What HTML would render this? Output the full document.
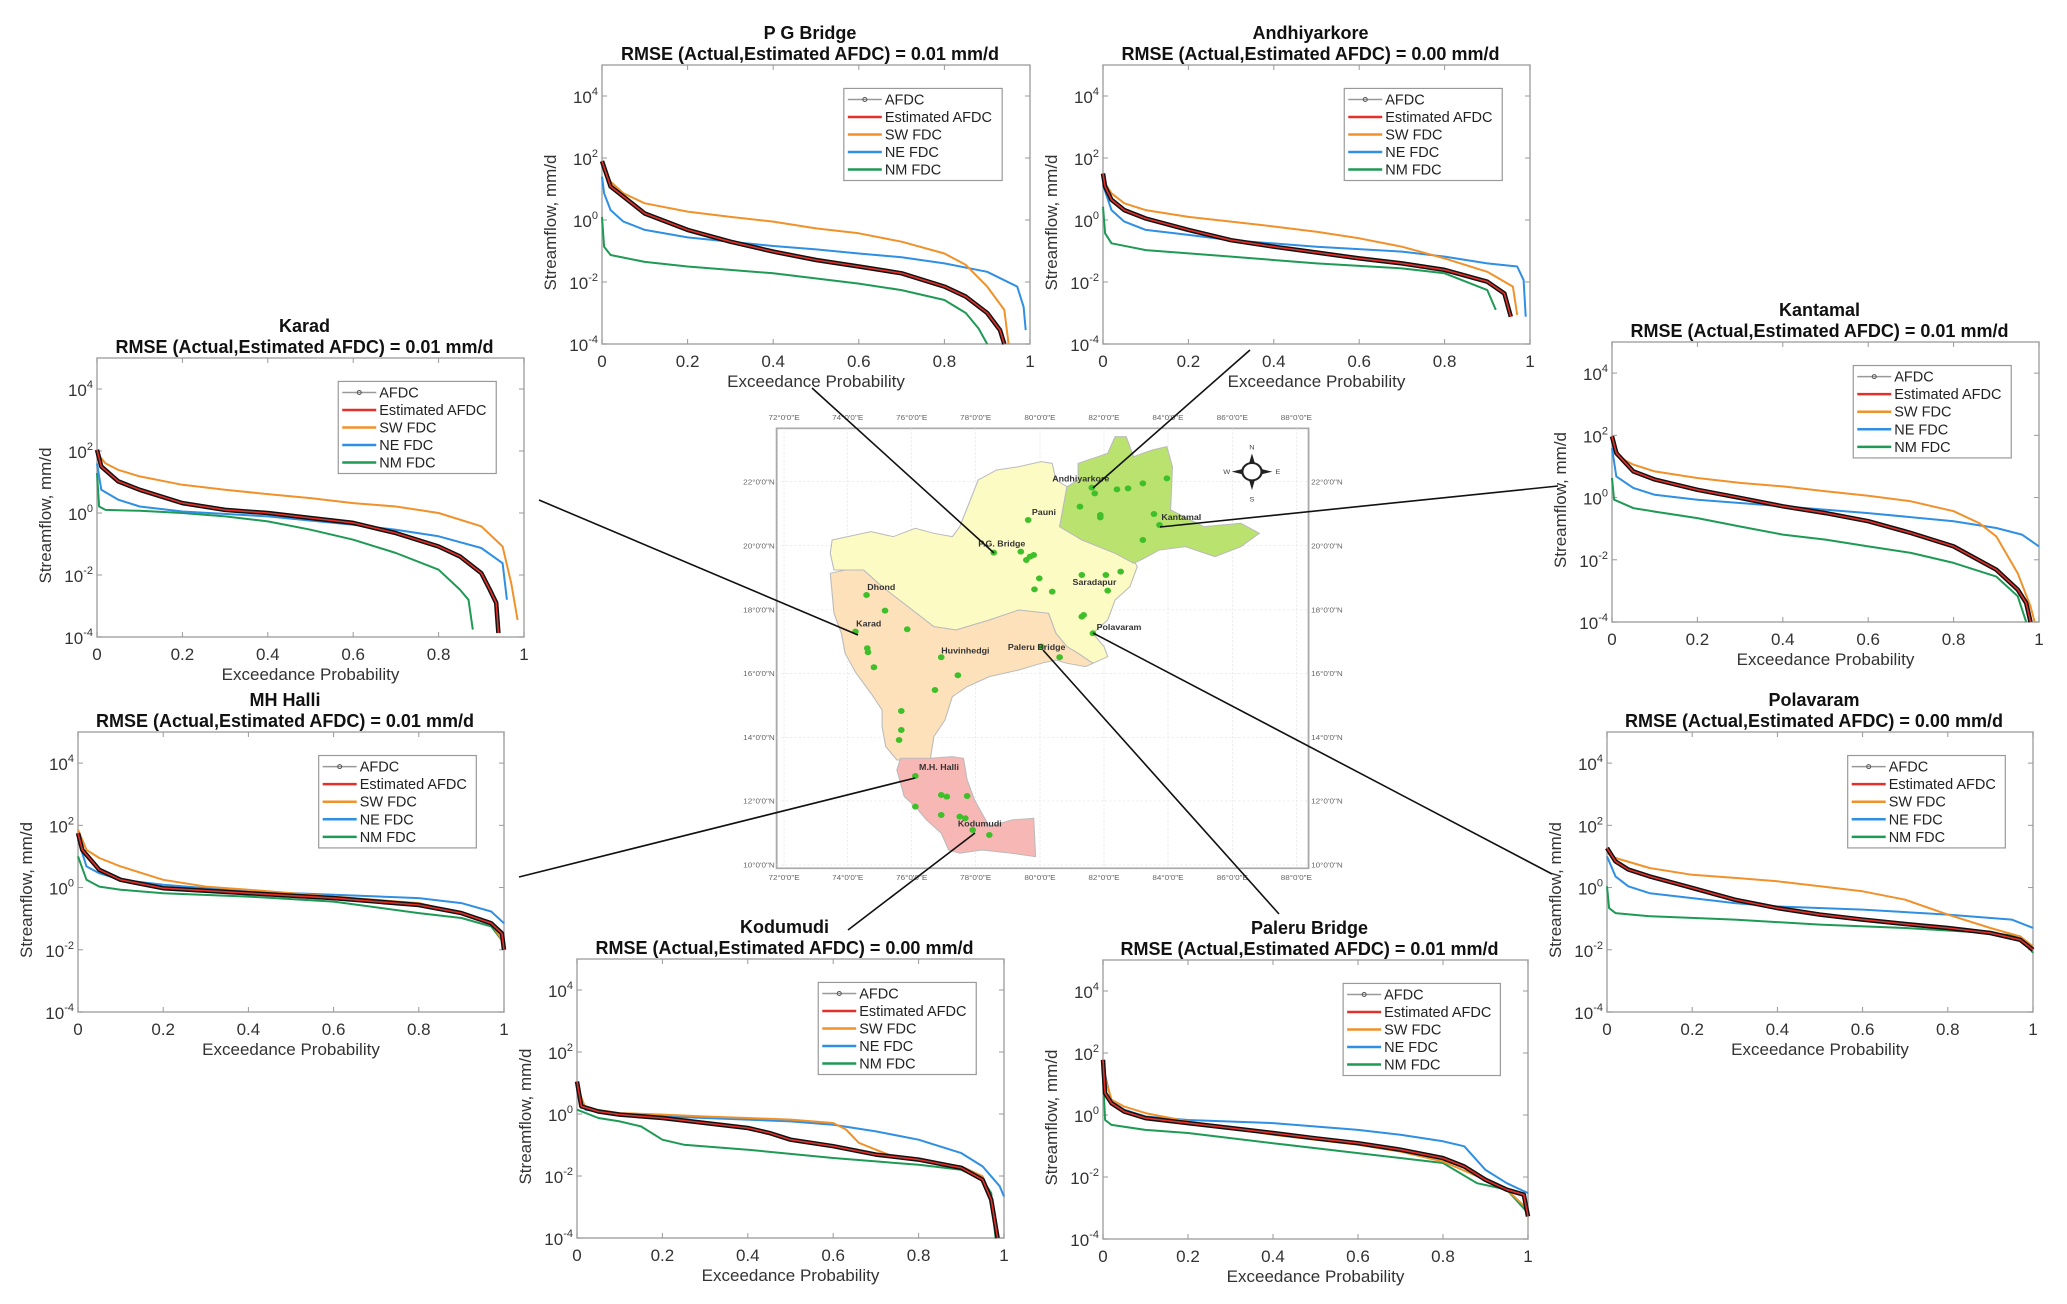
<!DOCTYPE html>
<html><head><meta charset="utf-8"><title>FDC panels</title>
<style>
html,body{margin:0;padding:0;background:#fff;}
svg{display:block;font-family:"Liberation Sans",Arial,sans-serif;}
</style></head>
<body>
<svg id="fig" width="2067" height="1304" viewBox="0 0 2067 1304" xmlns="http://www.w3.org/2000/svg">
<rect x="0" y="0" width="2067" height="1304" fill="#fff"/>
<g id="map" transform="translate(760,400) scale(0.3699,0.3333)"></g>
<g id="connectors" stroke="#111" stroke-width="1.6">
  <line x1="812" y1="388" x2="994" y2="553"/>
  <line x1="1250" y1="350" x2="1093" y2="488"/>
  <line x1="1558" y1="486" x2="1160" y2="527"/>
  <line x1="539" y1="500" x2="858" y2="635"/>
  <line x1="519" y1="877" x2="915" y2="778"/>
  <line x1="848" y1="930" x2="975" y2="833"/>
  <line x1="1279" y1="914" x2="1043" y2="650"/>
  <line x1="1552" y1="874" x2="1093" y2="633"/>
</g>
<g id="panels"></g>
</svg>
<script>
// ---- Data: [exceedance probability, log10(streamflow mm/d)] ----
const PG_AFDC=[[0,1.9],[0.02,1.08],[0.1,0.21],[0.2,-0.32],[0.3,-0.7],[0.4,-1.02],[0.5,-1.29],[0.6,-1.5],[0.7,-1.72],[0.8,-2.15],[0.85,-2.47],[0.9,-3.0],[0.93,-3.55],[0.94,-4]];
const PG_SW=[[0,1.72],[0.02,1.24],[0.05,0.86],[0.1,0.54],[0.2,0.27],[0.3,0.1],[0.4,-0.05],[0.5,-0.27],[0.6,-0.43],[0.7,-0.7],[0.8,-1.08],[0.85,-1.45],[0.9,-2.15],[0.94,-2.9],[0.95,-4]];
const PG_NE=[[0,1.4],[0.005,0.86],[0.02,0.32],[0.05,-0.05],[0.1,-0.32],[0.2,-0.56],[0.3,-0.7],[0.4,-0.84],[0.5,-0.95],[0.6,-1.08],[0.7,-1.2],[0.8,-1.4],[0.9,-1.67],[0.97,-2.15],[0.985,-2.8],[0.99,-3.55]];
const PG_NM=[[0,0.1],[0.005,-0.86],[0.02,-1.13],[0.1,-1.35],[0.2,-1.5],[0.4,-1.72],[0.6,-2.05],[0.7,-2.26],[0.8,-2.58],[0.85,-3.0],[0.88,-3.5],[0.9,-4]];

const AN_AFDC=[[0,1.5],[0.005,1.08],[0.02,0.65],[0.05,0.32],[0.1,0.05],[0.2,-0.32],[0.3,-0.65],[0.4,-0.86],[0.5,-1.05],[0.6,-1.24],[0.7,-1.4],[0.8,-1.61],[0.9,-1.99],[0.94,-2.37],[0.955,-3.12]];
const AN_SW=[[0,1.29],[0.02,0.86],[0.05,0.54],[0.1,0.32],[0.2,0.1],[0.3,-0.05],[0.4,-0.21],[0.5,-0.38],[0.6,-0.59],[0.7,-0.86],[0.8,-1.24],[0.9,-1.67],[0.96,-2.15],[0.97,-3.06]];
const AN_NE=[[0,1.13],[0.02,0.32],[0.05,-0.05],[0.1,-0.32],[0.2,-0.48],[0.3,-0.65],[0.5,-0.86],[0.7,-1.02],[0.8,-1.18],[0.9,-1.4],[0.97,-1.5],[0.985,-1.94],[0.99,-3.12]];
const AN_NM=[[0,0.43],[0.005,-0.43],[0.02,-0.75],[0.1,-0.97],[0.3,-1.18],[0.5,-1.4],[0.7,-1.56],[0.8,-1.72],[0.9,-2.26],[0.92,-2.9]];

const KA_AFDC=[[0,2.04],[0.01,1.5],[0.05,1.02],[0.1,0.75],[0.2,0.32],[0.3,0.1],[0.4,0],[0.5,-0.16],[0.6,-0.32],[0.7,-0.65],[0.8,-1.08],[0.85,-1.4],[0.9,-1.94],[0.92,-2.47],[0.935,-2.9],[0.94,-3.87]];
const KA_SW=[[0,1.93],[0.02,1.6],[0.05,1.39],[0.1,1.18],[0.2,0.91],[0.3,0.75],[0.4,0.61],[0.5,0.48],[0.6,0.32],[0.7,0.21],[0.8,0],[0.9,-0.43],[0.95,-1.08],[0.97,-2.26],[0.985,-3.45]];
const KA_NE=[[0,1.6],[0.01,0.75],[0.05,0.43],[0.1,0.21],[0.2,0.05],[0.4,-0.11],[0.6,-0.38],[0.7,-0.54],[0.8,-0.75],[0.9,-1.13],[0.95,-1.62],[0.96,-2.8]];
const KA_NM=[[0,1.29],[0.005,0.21],[0.02,0.1],[0.1,0.07],[0.2,0],[0.3,-0.11],[0.4,-0.27],[0.5,-0.54],[0.6,-0.86],[0.7,-1.29],[0.8,-1.83],[0.85,-2.47],[0.87,-2.8],[0.88,-3.76]];

const KT_AFDC=[[0,1.97],[0.01,1.43],[0.05,0.84],[0.1,0.58],[0.2,0.25],[0.3,-0.01],[0.4,-0.28],[0.5,-0.5],[0.6,-0.76],[0.7,-1.14],[0.8,-1.57],[0.9,-2.32],[0.95,-2.96],[0.97,-3.39],[0.98,-4]];
const KT_SW=[[0,1.86],[0.02,1.27],[0.05,1.06],[0.1,0.84],[0.2,0.63],[0.3,0.47],[0.4,0.36],[0.5,0.2],[0.6,0.06],[0.7,-0.12],[0.8,-0.44],[0.86,-0.82],[0.9,-1.25],[0.95,-2.43],[0.98,-3.5],[0.99,-4]];
const KT_NE=[[0,1.59],[0.01,0.68],[0.05,0.31],[0.1,0.09],[0.2,-0.07],[0.4,-0.28],[0.6,-0.5],[0.8,-0.76],[0.9,-0.98],[0.96,-1.19],[1,-1.57]];
const KT_NM=[[0,0.63],[0.005,-0.07],[0.05,-0.34],[0.1,-0.45],[0.2,-0.66],[0.3,-0.93],[0.4,-1.19],[0.5,-1.35],[0.6,-1.57],[0.7,-1.78],[0.8,-2.1],[0.9,-2.54],[0.95,-3.17],[0.97,-4]];

const MH_AFDC=[[0,1.75],[0.01,1.21],[0.05,0.57],[0.1,0.25],[0.2,-0.02],[0.4,-0.18],[0.6,-0.34],[0.8,-0.56],[0.9,-0.82],[0.97,-1.15],[0.995,-1.47],[1,-2.0]];
const MH_SW=[[0,1.86],[0.02,1.21],[0.05,0.95],[0.1,0.68],[0.2,0.25],[0.3,0.03],[0.4,-0.07],[0.6,-0.29],[0.8,-0.5],[0.9,-0.82],[0.97,-1.15],[1,-1.79]];
const MH_NE=[[0,1.54],[0.02,0.68],[0.05,0.46],[0.1,0.25],[0.2,0.09],[0.4,-0.13],[0.6,-0.23],[0.8,-0.34],[0.9,-0.5],[0.97,-0.77],[1,-1.15]];
const MH_NM=[[0,1.0],[0.02,0.25],[0.05,0.03],[0.1,-0.07],[0.2,-0.18],[0.4,-0.29],[0.6,-0.45],[0.8,-0.82],[0.9,-0.98],[0.97,-1.25],[1,-1.79]];

const PO_AFDC=[[0,1.27],[0.02,0.84],[0.05,0.58],[0.1,0.36],[0.2,-0.01],[0.3,-0.39],[0.4,-0.66],[0.5,-0.87],[0.6,-1.03],[0.7,-1.17],[0.8,-1.3],[0.9,-1.46],[0.97,-1.68],[1,-2.0]];
const PO_SW=[[0,1.11],[0.02,0.95],[0.1,0.63],[0.2,0.41],[0.3,0.31],[0.4,0.2],[0.5,0.04],[0.6,-0.12],[0.7,-0.39],[0.8,-0.87],[0.9,-1.3],[0.97,-1.57],[1,-1.89]];
const PO_NE=[[0,1.0],[0.02,0.36],[0.05,0.04],[0.1,-0.18],[0.2,-0.34],[0.3,-0.5],[0.4,-0.61],[0.6,-0.71],[0.8,-0.87],[0.95,-1.03],[1,-1.3]];
const PO_NM=[[0,0.04],[0.005,-0.66],[0.02,-0.82],[0.1,-0.92],[0.3,-1.03],[0.5,-1.19],[0.7,-1.3],[0.9,-1.46],[0.97,-1.57],[1,-2.1]];

const KO_AFDC=[[0,1.05],[0.01,0.25],[0.05,0.08],[0.1,-0.02],[0.2,-0.13],[0.3,-0.29],[0.4,-0.45],[0.45,-0.61],[0.5,-0.83],[0.6,-1.04],[0.7,-1.31],[0.8,-1.47],[0.9,-1.74],[0.95,-2.12],[0.97,-2.76],[0.985,-4]];
const KO_SW=[[0,0.89],[0.02,0.19],[0.1,0.03],[0.2,-0.02],[0.3,-0.08],[0.4,-0.13],[0.5,-0.18],[0.6,-0.29],[0.63,-0.5],[0.66,-0.93],[0.7,-1.15],[0.75,-1.42],[0.8,-1.47],[0.9,-1.69],[0.95,-2.01],[0.97,-2.76],[0.985,-4]];
const KO_NE=[[0,0.78],[0.02,0.14],[0.1,-0.02],[0.3,-0.13],[0.5,-0.24],[0.6,-0.35],[0.7,-0.56],[0.8,-0.83],[0.9,-1.26],[0.95,-1.69],[0.99,-2.33],[1,-2.66]];
const KO_NM=[[0,0.14],[0.05,-0.13],[0.1,-0.24],[0.15,-0.4],[0.2,-0.83],[0.25,-0.99],[0.4,-1.15],[0.6,-1.42],[0.8,-1.64],[0.9,-1.8],[0.95,-2.12],[0.97,-2.55],[0.98,-4]];

const PA_AFDC=[[0,1.78],[0.005,0.7],[0.02,0.38],[0.05,0.11],[0.1,-0.1],[0.2,-0.26],[0.3,-0.42],[0.4,-0.58],[0.5,-0.75],[0.6,-0.91],[0.7,-1.12],[0.8,-1.39],[0.85,-1.66],[0.9,-2.09],[0.95,-2.41],[0.99,-2.57],[1,-3.27]];
const PA_SW=[[0,1.46],[0.02,0.49],[0.05,0.27],[0.1,0.06],[0.2,-0.21],[0.3,-0.42],[0.4,-0.64],[0.5,-0.8],[0.6,-0.96],[0.7,-1.18],[0.8,-1.5],[0.9,-2.09],[0.95,-2.41],[1,-3.05]];
const PA_NE=[[0,1.57],[0.02,0.44],[0.05,0.17],[0.1,-0.05],[0.2,-0.16],[0.4,-0.26],[0.6,-0.48],[0.7,-0.64],[0.8,-0.85],[0.85,-1.01],[0.9,-1.77],[0.95,-2.2],[1,-2.52]];
const PA_NM=[[0,1.24],[0.005,-0.16],[0.02,-0.32],[0.1,-0.48],[0.2,-0.58],[0.4,-0.91],[0.6,-1.23],[0.8,-1.55],[0.88,-2.2],[0.95,-2.41],[1,-3.16]];

const xTickLabels=["0","0.2","0.4","0.6","0.8","1"];
const xTickValues=[0,0.2,0.4,0.6,0.8,1];
const yTickExps=[-4,-2,0,2,4];
const legendLabels=["AFDC","Estimated AFDC","SW FDC","NE FDC","NM FDC"];

const COL={sw:"#f0912a",ne:"#2e8fe3",nm:"#1e9a55",red:"#e2302a",blk:"#111"};
const NS="http://www.w3.org/2000/svg";
function mk(tag,attrs,parent){const e=document.createElementNS(NS,tag);for(const k in attrs)e.setAttribute(k,attrs[k]);if(parent)parent.appendChild(e);return e;}

const panels=[
 {id:"pg-bridge",name:"P G Bridge",rmse:"0.01",L:602,T:65,W:428,H:279,d:[PG_AFDC,PG_SW,PG_NE,PG_NM]},
 {id:"andhiyarkore",name:"Andhiyarkore",rmse:"0.00",L:1103,T:65,W:427,H:279,d:[AN_AFDC,AN_SW,AN_NE,AN_NM]},
 {id:"karad",name:"Karad",rmse:"0.01",L:97,T:358,W:427,H:279,d:[KA_AFDC,KA_SW,KA_NE,KA_NM]},
 {id:"kantamal",name:"Kantamal",rmse:"0.01",L:1612,T:342,W:427,H:280,d:[KT_AFDC,KT_SW,KT_NE,KT_NM]},
 {id:"mh-halli",name:"MH Halli",rmse:"0.01",L:78,T:732,W:426,H:280,d:[MH_AFDC,MH_SW,MH_NE,MH_NM]},
 {id:"polavaram",name:"Polavaram",rmse:"0.00",L:1607,T:732,W:426,H:280,d:[PO_AFDC,PO_SW,PO_NE,PO_NM]},
 {id:"kodumudi",name:"Kodumudi",rmse:"0.00",L:577,T:959,W:427,H:279,d:[KO_AFDC,KO_SW,KO_NE,KO_NM]},
 {id:"paleru-bridge",name:"Paleru Bridge",rmse:"0.01",L:1103,T:960,W:425,H:279,d:[PA_AFDC,PA_SW,PA_NE,PA_NM]}
];

const root=document.getElementById("panels");
panels.forEach(p=>{
  const g=mk("g",{},root);
  
  
  const sx=x=>p.L+x*p.W;
  const sy=lq=>p.T+(5-lq)/9*p.H;
  const cx=p.L+p.W/2-6;
  const t1=mk("text",{x:cx,y:p.T-26,"text-anchor":"middle","font-size":"18","font-weight":"bold",fill:"#111"},g);
  t1.textContent=p.name;
  
  
  const t2=mk("text",{x:cx,y:p.T-5,"text-anchor":"middle","font-size":"18","font-weight":"bold",fill:"#111"},g);
  t2.textContent="RMSE (Actual,Estimated AFDC) = "+p.rmse+" mm/d";
  
  
  const box=mk("rect",{x:p.L,y:p.T,width:p.W,height:p.H,fill:"#fff",stroke:"#a8a8a8","stroke-width":"1.5"},g);
  
  
  xTickValues.forEach((v,i)=>{
    mk("line",{x1:sx(v),x2:sx(v),y1:p.T+p.H,y2:p.T+p.H-5,stroke:"#999"},g);
    mk("line",{x1:sx(v),x2:sx(v),y1:p.T,y2:p.T+5,stroke:"#999"},g);
    const tl=mk("text",{x:sx(v),y:p.T+p.H+23,"text-anchor":"middle","font-size":"17",fill:"#333"},g);
    tl.textContent=xTickLabels[i];
    
    
  });
  yTickExps.forEach(e=>{
    mk("line",{x1:p.L,x2:p.L+5,y1:sy(e),y2:sy(e),stroke:"#999"},g);
    mk("line",{x1:p.L+p.W,x2:p.L+p.W-5,y1:sy(e),y2:sy(e),stroke:"#999"},g);
    const tl=mk("text",{x:p.L-4,y:sy(e)+7,"text-anchor":"end","font-size":"17",fill:"#333"},g);
    
    
    const b=mk("tspan",{},tl);b.textContent="10";
    const s=mk("tspan",{dy:"-8","font-size":"11"},tl);s.textContent=String(e);
  });
  const xl=mk("text",{x:p.L+p.W/2,y:p.T+p.H+43,"text-anchor":"middle","font-size":"17",fill:"#333"},g);
  xl.textContent="Exceedance Probability";
  
  
  const yx=p.L-46, yy=p.T+p.H/2+18;
  const yl=mk("text",{x:yx,y:yy,"text-anchor":"middle","font-size":"17",fill:"#333",transform:"rotate(-90 "+yx+" "+yy+")"},g);
  yl.textContent="Streamflow, mm/d";
  
  
  const path=arr=>arr.map((q,i)=>(i?"L":"M")+sx(q[0]).toFixed(1)+","+sy(q[1]).toFixed(1)).join(" ");
  const order=[[p.d[3],COL.nm,2,"nm-fdc-line"],[p.d[2],COL.ne,2,"ne-fdc-line"],[p.d[1],COL.sw,2,"sw-fdc-line"],[p.d[0],COL.blk,4.5,"afdc-line"],[p.d[0],COL.red,1.6,"estimated-afdc-line"]];
  order.forEach(o=>{
    const pl=mk("path",{d:path(o[0]),fill:"none",stroke:o[1],"stroke-width":o[2],"stroke-linejoin":"round"},g);
    
    
  });
  const lx=p.L+0.565*p.W, ly=p.T+0.084*p.H, lw=0.37*p.W, lh=0.33*p.H;
  const lg=mk("g",{},g);
  
  
  mk("rect",{x:lx,y:ly,width:lw,height:lh,fill:"#fff",stroke:"#999","stroke-width":"1.2"},lg);
  const lcols=["#999",COL.red,COL.sw,COL.ne,COL.nm];
  legendLabels.forEach((lab,i)=>{
    const ry=ly+lh*(0.12+i*0.19);
    const en=mk("g",{},lg);
    
    
    mk("line",{x1:lx+4,x2:lx+38,y1:ry,y2:ry,stroke:lcols[i],"stroke-width":i===0?1.5:2.5},en);
    if(i===0)mk("circle",{cx:lx+21,cy:ry,r:2,fill:"none",stroke:"#555"},en);
    const tt=mk("text",{x:lx+41,y:ry+5,"font-size":"14.5",fill:"#222"},en);
    tt.textContent=lab;
  });
});

// ---- Map ----
const mapG=document.getElementById("map");
mk("rect",{x:45,y:85,width:1438,height:1320,fill:"#fff",stroke:"#aaa","stroke-width":"5"},mapG);
const lonX=[65,237,410,583,757,930,1103,1277,1450], lonL=["72°0'0\"E","74°0'0\"E","76°0'0\"E","78°0'0\"E","80°0'0\"E","82°0'0\"E","84°0'0\"E","86°0'0\"E","88°0'0\"E"];
const latY=[245,437,630,820,1012,1203,1395], latL=["22°0'0\"N","20°0'0\"N","18°0'0\"N","16°0'0\"N","14°0'0\"N","12°0'0\"N","10°0'0\"N"];
lonX.forEach((x,i)=>{mk("line",{x1:x,x2:x,y1:85,y2:1405,stroke:"#e2e2e2","stroke-width":"2","stroke-dasharray":"6 6"},mapG);
  [60,1440].forEach(y=>{const t=mk("text",{x:x,y:y,"text-anchor":"middle","font-size":"22",fill:"#666"},mapG);t.textContent=lonL[i];});});
latY.forEach((y,i)=>{mk("line",{x1:45,x2:1483,y1:y,y2:y,stroke:"#e2e2e2","stroke-width":"2","stroke-dasharray":"6 6"},mapG);
  const t=mk("text",{x:1490,y:y+8,"font-size":"22",fill:"#666"},mapG);t.textContent=latL[i];
  const t2=mk("text",{x:40,y:y+8,"text-anchor":"end","font-size":"22",fill:"#666"},mapG);t2.textContent=latL[i];});
const regions=[
 ["godavari-basin","#fdfbc4","195,420 300,395 360,410 420,385 470,400 520,410 540,380 590,240 640,210 700,200 760,185 790,190 800,240 830,260 810,380 870,420 960,460 1010,480 1020,500 1000,560 960,600 940,660 900,700 930,740 940,770 900,790 860,760 830,740 800,700 780,640 700,630 620,660 530,690 470,680 400,620 330,560 280,510 200,510 190,460"],
 ["mahanadi-basin","#b9e26f","860,190 940,160 960,110 990,110 1010,170 1060,150 1100,140 1115,200 1110,330 1200,380 1300,370 1350,400 1300,440 1230,470 1150,440 1080,450 1030,480 1010,490 960,460 870,420 810,380 830,260 860,240"],
 ["krishna-basin","#fde1bb","190,520 230,510 280,510 330,560 400,620 470,680 530,690 620,660 700,630 780,640 800,700 830,740 860,760 900,790 880,800 830,790 800,780 760,790 700,810 620,830 560,860 520,890 500,960 470,1010 460,1080 410,1080 370,1080 340,1040 330,980 330,930 300,880 260,820 230,760 220,700 200,640 195,580"],
 ["cauvery-basin","#f7b7b5","380,1075 460,1075 520,1070 550,1075 560,1140 580,1200 620,1280 680,1260 740,1255 745,1370 680,1360 600,1350 540,1360 510,1350 490,1300 450,1260 420,1220 390,1190 380,1150 370,1110"]
];
regions.forEach(r=>{const pg=mk("polygon",{points:r[2],fill:r[1],stroke:"#bbb","stroke-width":"3"},mapG);
  
  });
const dots=[[632,458],[705,455],[730,470],[740,465],[720,480],[755,535],[742,568],[790,575],[870,525],[935,525],[975,515],[940,572],[725,360],[897,263],[905,280],[965,268],[995,265],[1035,250],[1100,235],[865,320],[920,345],[920,352],[1065,342],[1080,375],[1035,420],[870,650],[875,645],[900,700],[760,740],[810,772],[288,585],[338,632],[398,688],[258,695],[290,745],[292,757],[308,802],[490,772],[535,826],[473,870],[382,933],[382,990],[376,1020],[420,1128],[490,1185],[505,1190],[560,1188],[420,1220],[490,1245],[540,1250],[555,1255],[575,1290],[620,1305]];
dots.forEach(d=>{const c=mk("circle",{cx:d[0],cy:d[1],r:9,fill:"#3fbf2a"},mapG);
  
  });
const labs=[[590,440,"P.G. Bridge"],[735,345,"Pauni"],[790,245,"Andhiyarkore"],[1085,360,"Kantamal"],[910,690,"Polavaram"],[260,680,"Karad"],[670,750,"Paleru Bridge"],[430,1110,"M.H. Halli"],[535,1280,"Kodumudi"],[290,570,"Dhond"],[490,760,"Huvinhedgi"],[845,555,"Saradapur"]];
labs.forEach(l=>{const t=mk("text",{x:l[0],y:l[1],"font-size":"24","font-weight":"bold",fill:"#333"},mapG);t.textContent=l[2];});
const comp=mk("g",{},mapG);


mk("circle",{cx:1330,cy:215,r:26,fill:"none",stroke:"#222","stroke-width":"6"},comp);
mk("path",{d:"M1330,160 L1338,190 L1322,190 Z M1330,270 L1338,240 L1322,240 Z M1275,215 L1305,207 L1305,223 Z M1385,215 L1355,207 L1355,223 Z",fill:"#222"},comp);
[[1330,148,"N"],[1330,305,"S"],[1262,222,"W"],[1400,222,"E"]].forEach(c=>{const t=mk("text",{x:c[0],y:c[1],"text-anchor":"middle","font-size":"20",fill:"#444"},comp);t.textContent=c[2];});
</script>
</body></html>
